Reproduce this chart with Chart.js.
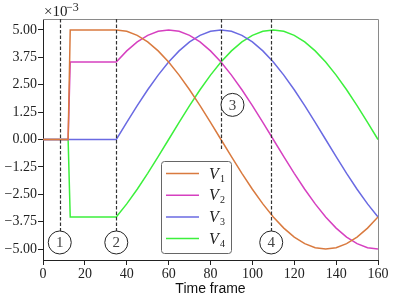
<!DOCTYPE html>
<html>
<head>
<meta charset="utf-8">
<script src="https://cdn.jsdelivr.net/npm/chart.js@4.4.1/dist/chart.umd.min.js"></script>
<style>
  html, body { margin: 0; padding: 0; background: #fff; }
  #wrap { width: 399px; height: 299px; }
</style>
</head>
<body>
<div id="wrap"><canvas id="c" width="399" height="299"></canvas></div>
<script>
// values are in units of 1e-3 (see the "x10^-3" label)
const frames = [0, 12, 13, 35, 40, 45, 50, 55, 60, 65, 70, 75, 80, 85, 90, 95, 100,
  105, 110, 115, 120, 125, 130, 135, 140, 145, 150, 155, 160];
const v1 = [0, 0, 5, 5, 4.938, 4.755, 4.455, 4.045, 3.536, 2.939, 2.270, 1.545, 0.782, 0,
  -0.782, -1.545, -2.270, -2.939, -3.536, -4.045, -4.455, -4.755, -4.938, -5, -4.938,
  -4.755, -4.455, -4.045, -3.536];
const v2 = [0, 0, 3.536, 3.536, 4.045, 4.455, 4.755, 4.938, 5, 4.938, 4.755, 4.455, 4.045,
  3.536, 2.939, 2.270, 1.545, 0.782, 0, -0.782, -1.545, -2.270, -2.939, -3.536, -4.045,
  -4.455, -4.755, -4.938, -5];
const v3 = [0, 0, 0, 0, 0.782, 1.545, 2.270, 2.939, 3.536, 4.045, 4.455, 4.755, 4.938, 5,
  4.938, 4.755, 4.455, 4.045, 3.536, 2.939, 2.270, 1.545, 0.782, 0, -0.782, -1.545,
  -2.270, -2.939, -3.536];
const v4 = [0, 0, -3.536, -3.536, -2.939, -2.270, -1.545, -0.782, 0, 0.782, 1.545, 2.270,
  2.939, 3.536, 4.045, 4.455, 4.755, 4.938, 5, 4.938, 4.755, 4.455, 4.045, 3.536, 2.939,
  2.270, 1.545, 0.782, 0];
const seriesSub = ['1', '2', '3', '4'];          // V_1 .. V_4
const yTicks = [-5, -3.75, -2.5, -1.25, 0, 1.25, 2.5, 3.75, 5];
const xTicks = [0, 20, 40, 60, 80, 100, 120, 140, 160];
const markerFrames = [8, 35, 85, 109];
const markerLabels = ['1', '2', '3', '4'];

const COLORS = ['#d97a3f', '#d640c0', '#6a6ae2', '#3cf03c'];
const SERIF = "'Liberation Serif', 'DejaVu Serif', serif";
const SANS = "'Liberation Sans', 'DejaVu Sans', sans-serif";

const series = [v1, v2, v3, v4];
const datasets = series.map((vals, i) => ({
  label: 'V' + seriesSub[i],
  data: frames.map((f, j) => ({ x: f, y: vals[j] })),
  borderColor: COLORS[i],
  borderWidth: 1.5,
  pointRadius: 0,
  tension: 0,
  fill: false,
}));

// circled markers: circle centre (data units) and where the dashed line stops
const MARKS = [
  { cx: 8,    cy: -4.7, stop: -4.18 },
  { cx: 35,   cy: -4.7, stop: -4.18 },
  { cx: 90.5, cy: 1.58, stop: -0.45 },
  { cx: 109,  cy: -4.7, stop: -4.18 },
];
const R = 11.5;

const extras = {
  id: 'extras',
  afterDatasetsDraw(chart) {
    const { ctx, chartArea: a, scales: { x, y } } = chart;
    ctx.save();
    // top + right spines (grey)
    ctx.strokeStyle = '#8a8a8a';
    ctx.lineWidth = 1;
    ctx.beginPath();
    ctx.moveTo(a.left, a.top + 0.5); ctx.lineTo(a.right + 0.5, a.top + 0.5);
    ctx.lineTo(a.right + 0.5, a.bottom);
    ctx.stroke();

    // dashed marker lines + circles
    markerFrames.forEach((f, i) => {
      const m = MARKS[i];
      const px = Math.round(x.getPixelForValue(f)) + 0.5;
      ctx.strokeStyle = '#333';
      ctx.lineWidth = 1.2;
      ctx.setLineDash([3.5, 2]);
      ctx.beginPath();
      ctx.moveTo(px, a.top);
      ctx.lineTo(px, y.getPixelForValue(m.stop));
      ctx.stroke();
      ctx.setLineDash([]);
      const cx = x.getPixelForValue(m.cx), cy = y.getPixelForValue(m.cy);
      ctx.fillStyle = '#fff';
      ctx.strokeStyle = '#222';
      ctx.lineWidth = 1;
      ctx.beginPath();
      ctx.arc(cx, cy, R, 0, Math.PI * 2);
      ctx.fill();
      ctx.stroke();
      ctx.fillStyle = '#444';
      ctx.font = '15px ' + SERIF;
      ctx.textAlign = 'center';
      ctx.textBaseline = 'middle';
      ctx.fillText(markerLabels[i], cx, cy + 1);
    });

    // legend box
    const lx = 161, ly = 161, lw = 70, lh = 92;
    ctx.fillStyle = 'rgba(255,255,255,0.9)';
    ctx.strokeStyle = '#666';
    ctx.lineWidth = 1;
    ctx.beginPath();
    ctx.roundRect(lx + 0.5, ly + 0.5, lw, lh, 3);
    ctx.fill();
    ctx.stroke();
    chart.data.datasets.forEach((ds, i) => {
      const ry = 173.5 + i * 21.7;
      ctx.strokeStyle = ds.borderColor;
      ctx.lineWidth = 1.5;
      ctx.beginPath();
      ctx.moveTo(166, ry); ctx.lineTo(199, ry);
      ctx.stroke();
      ctx.fillStyle = '#222';
      ctx.textAlign = 'left';
      ctx.textBaseline = 'alphabetic';
      ctx.font = 'italic 16px ' + SERIF;
      ctx.fillText('V', 209, ry + 5);
      ctx.font = '10px ' + SERIF;
      ctx.fillText(seriesSub[i], 220, ry + 8);
    });

    // x10^-3 multiplier
    ctx.fillStyle = '#222';
    ctx.textAlign = 'left';
    ctx.textBaseline = 'alphabetic';
    ctx.font = '15px ' + SERIF;
    ctx.fillText('\u00d710', 44, 16);
    ctx.font = '12px ' + SERIF;
    ctx.fillText('\u22123', 66, 11);
    ctx.restore();
  }
};

new Chart(document.getElementById('c'), {
  type: 'line',
  data: { datasets },
  options: {
    responsive: false,
    animation: false,
    devicePixelRatio: 1,
    layout: { padding: { top: 19, right: 21, left: 0, bottom: 0 } },
    plugins: { legend: { display: false }, tooltip: { enabled: false } },
    scales: {
      x: {
        type: 'linear',
        min: 0, max: 160,
        afterBuildTicks: (s) => { s.ticks = xTicks.map((v) => ({ value: v })); },
        afterFit: (s) => { s.height = 39; },
        ticks: { color: '#222', font: { family: SERIF, size: 14 }, padding: 1, maxRotation: 0 },
        grid: { display: true, drawOnChartArea: false, drawTicks: true, tickLength: 5, color: '#222' },
        border: { display: true, color: '#222' },
        title: { display: true, text: 'Time frame', color: '#111',
          font: { family: SANS, size: 14 }, padding: { top: 0, bottom: 1 } },
      },
      y: {
        min: -5.5, max: 5.5,
        afterBuildTicks: (s) => { s.ticks = yTicks.map((v) => ({ value: v })); },
        afterFit: (s) => { s.width = 43; },
        ticks: { color: '#222', font: { family: SERIF, size: 14 }, padding: 1,
          callback: (v) => v.toFixed(2).replace('-', '\u2212') },
        grid: { display: true, drawOnChartArea: false, drawTicks: true, tickLength: 5, color: '#222' },
        border: { display: true, color: '#222' },
      },
    },
  },
  plugins: [extras],
});
</script>
</body>
</html>
